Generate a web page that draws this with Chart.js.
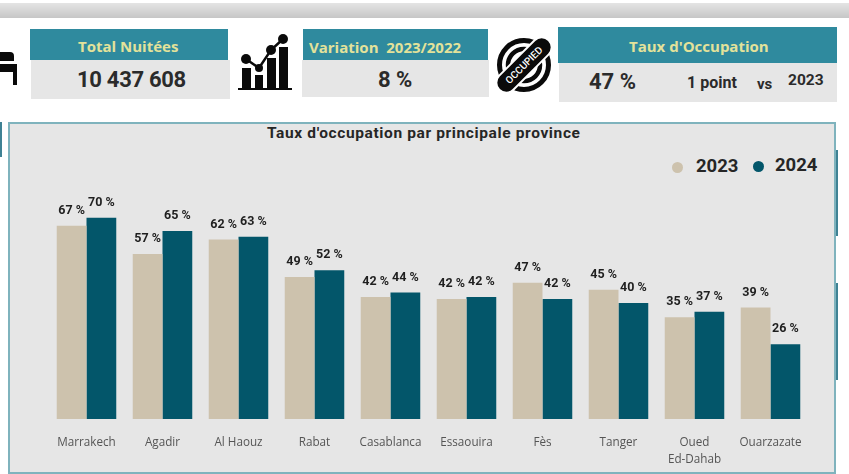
<!DOCTYPE html>
<html lang="fr">
<head>
<meta charset="utf-8">
<title>Taux d'occupation</title>
<script src="https://cdn.jsdelivr.net/npm/chart.js@4"></script>
<style>
  html, body { margin: 0; padding: 0; background: #fff; }
  body { width: 849px; height: 474px; position: relative; overflow: hidden; font-family: Roboto, sans-serif; }
  .box { position: absolute; }
  .txt { position: absolute; white-space: pre; transform: translateY(-50%); line-height: 1; }
  .head { background: #2f8a9e; }
  .body { background: #e6e6e6; }
  .htxt { color: #e3e29a; font-family: "Open Sans", sans-serif; font-weight: 700; font-size: 15px; }
  .num { color: #2b2b2b; font-weight: 700; }
  #strip { left: 0; top: 3px; width: 849px; height: 15px; background: linear-gradient(#e4e4e4, #c6c6c6); }
  #panel { left: 8px; top: 122px; width: 824px; height: 348px; background: #e6e6e6; border: 2px solid #7fb3bd; }
  #title { left: 267px; top: 134px; font-size: 15.5px; font-weight: 700; color: #262626; letter-spacing: 0.62px; }
  #chart { position: absolute; left: 0; top: 0; }
  .dot { position: absolute; width: 11px; height: 11px; border-radius: 50%; }
  .legtxt { font-size: 18.5px; font-weight: 700; color: #262626; }
</style>
</head>
<body>
<div class="box" id="strip"></div>

<!-- bed icon, cut by the left edge -->
<svg class="box" style="left:0;top:40px" width="20" height="50" viewBox="0 0 20 50">
  <path d="M0 12h10q4 0 4 4v5H0zM0 24h17v21h-4V32H0z" fill="#0a0a0a"/>
</svg>

<div class="box head" style="left:30px;top:29px;width:198px;height:31px"></div>
<div class="box body" style="left:31px;top:60px;width:199px;height:39px"></div>
<div class="txt htxt" style="left:78px;top:46px">Total Nuitées</div>
<div class="txt num" style="left:77px;top:80px;font-size:22px;letter-spacing:-0.3px">10 437 608</div>

<!-- bars + trend icon -->
<svg class="box" style="left:232px;top:30px" width="70" height="70" viewBox="0 0 70 70">
  <g fill="#0a0a0a">
    <rect x="10" y="38" width="9" height="21"/><rect x="23" y="45" width="8" height="14"/>
    <rect x="35" y="28" width="9" height="31"/><rect x="47" y="17" width="9" height="42"/>
    <rect x="6" y="58" width="54" height="2"/>
    <circle cx="14" cy="29" r="5"/><circle cx="27" cy="38" r="4"/><circle cx="39" cy="20" r="5"/><circle cx="51" cy="9" r="5"/>
  </g>
  <polyline points="14,29 27,38 39,20 51,9" fill="none" stroke="#0a0a0a" stroke-width="2.5"/>
</svg>

<div class="box head" style="left:303px;top:29px;width:185px;height:31px"></div>
<div class="box body" style="left:302px;top:60px;width:187px;height:37px"></div>
<div class="txt htxt" style="left:309px;top:47px">Variation  2023/2022</div>
<div class="txt num" style="left:378px;top:80px;font-size:22px">8 %</div>

<!-- occupied stamp icon -->
<svg class="box" style="left:495px;top:36px" width="58" height="58" viewBox="0 0 58 58">
  <circle cx="29" cy="29" r="24.5" fill="none" stroke="#0a0a0a" stroke-width="5"/>
  <circle cx="29" cy="29" r="16" fill="none" stroke="#0a0a0a" stroke-width="4.5"/>
  <g transform="rotate(-45 29 29)">
    <rect x="-6" y="19" width="70" height="20" rx="10" fill="#0a0a0a" stroke="#fff" stroke-width="2"/>
    <text x="29" y="32.5" text-anchor="middle" font-family="Roboto, sans-serif" font-size="10" font-weight="500" fill="#fff">OCCUPIED</text>
  </g>
</svg>

<div class="box head" style="left:558px;top:27px;width:279px;height:36px"></div>
<div class="box body" style="left:559px;top:63px;width:278px;height:39px"></div>
<div class="txt htxt" style="left:629px;top:46px">Taux d'Occupation</div>
<div class="txt num" style="left:589px;top:82px;font-size:22px">47 %</div>
<div class="txt num" style="left:687px;top:83px;font-size:16px">1 point</div>
<div class="txt num" style="left:757px;top:84px;font-size:15px">vs</div>
<div class="txt num" style="left:788px;top:81px;font-size:15.5px">2023</div>

<!-- bits of neighbouring panels -->
<div class="box" style="left:0;top:122px;width:2px;height:35px;background:#3f8294"></div>
<div class="box" style="left:836px;top:150px;width:2px;height:86px;background:#3f8294"></div>
<div class="box" style="left:836px;top:283px;width:2px;height:97px;background:#3f8294"></div>

<div class="box" id="panel"></div>
<div class="txt" id="title">Taux d'occupation par principale province</div>
<div class="dot" style="left:672px;top:162px;background:#cdc2ad"></div>
<div class="txt legtxt" id="leg0" style="left:696px;top:166px"></div>
<div class="dot" style="left:753px;top:161px;background:#03566a"></div>
<div class="txt legtxt" id="leg1" style="left:775px;top:165px"></div>

<canvas id="chart" width="849" height="474"></canvas>

<script>
const provinces = ["Marrakech", "Agadir", "Al Haouz", "Rabat", "Casablanca", "Essaouira", "Fès", "Tanger", ["Oued", "Ed-Dahab"], "Ouarzazate"];
const seriesNames = ["2023", "2024"];
const values2023 = [67.2, 57.4, 62.4, 49.4, 42.4, 41.7, 47.4, 44.9, 35.4, 38.8];
const values2024 = [70, 65.4, 63.4, 51.7, 44, 42.4, 41.7, 40.3, 37.3, 26];
const colors = ["#cdc2ad", "#03566a"];

document.getElementById("leg0").textContent = seriesNames[0];
document.getElementById("leg1").textContent = seriesNames[1];

// value labels above each bar, rounded like the source ("70 %")
const barLabels = {
  id: "barLabels",
  afterDatasetsDraw(chart) {
    const ctx = chart.ctx;
    ctx.save();
    ctx.font = "700 12.5px Roboto, sans-serif";
    ctx.fillStyle = "#1f1f1f";
    ctx.textAlign = "center";
    ctx.textBaseline = "middle";
    chart.data.datasets.forEach((ds, i) => {
      chart.getDatasetMeta(i).data.forEach((bar, j) => {
        ctx.fillText(Math.round(ds.data[j]) + " %", bar.x, bar.y - 15);
      });
    });
    ctx.restore();
  }
};

new Chart(document.getElementById("chart"), {
  type: "bar",
  data: {
    labels: provinces,
    datasets: [
      { label: seriesNames[0], data: values2023, backgroundColor: colors[0] },
      { label: seriesNames[1], data: values2024, backgroundColor: colors[1] }
    ]
  },
  options: {
    responsive: false,
    animation: false,
    layout: { padding: { left: 48.5, right: 40.5, top: 131.4, bottom: 0 } },
    datasets: { bar: { barPercentage: 1, categoryPercentage: 0.783 } },
    plugins: { legend: { display: false }, tooltip: { enabled: false } },
    scales: {
      x: {
        afterFit(scale) { scale.height = 55; },
        grid: { display: false },
        border: { display: false },
        ticks: {
          autoSkip: false,
          maxRotation: 0,
          padding: 7,
          color: "#555",
          font: { family: "'Open Sans', sans-serif", size: 11.7, lineHeight: 1.45 }
        }
      },
      y: { display: false, min: 0, max: 100 }
    }
  },
  plugins: [barLabels]
});
</script>
</body>
</html>
